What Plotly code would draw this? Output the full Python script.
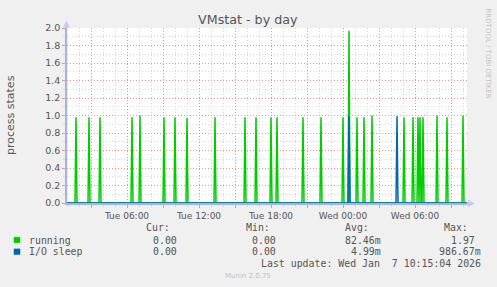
import plotly.graph_objects as go
from datetime import datetime, timedelta

# ---------------- data ----------------
running_times = [
    "2026-01-06 01:45", "2026-01-06 02:50", "2026-01-06 03:45", "2026-01-06 06:25",
    "2026-01-06 07:05", "2026-01-06 09:05", "2026-01-06 10:00", "2026-01-06 11:00",
    "2026-01-06 13:20", "2026-01-06 15:50", "2026-01-06 16:45", "2026-01-06 18:00",
    "2026-01-06 18:30", "2026-01-06 20:40", "2026-01-06 22:10", "2026-01-07 00:00",
    "2026-01-07 00:30", "2026-01-07 01:10", "2026-01-07 01:45", "2026-01-07 02:25",
    "2026-01-07 05:05", "2026-01-07 05:50", "2026-01-07 06:15", "2026-01-07 06:25",
    "2026-01-07 06:40", "2026-01-07 07:50", "2026-01-07 08:40", "2026-01-07 10:00",
]
running_values = [
    0.98, 0.98, 0.98, 0.98,
    1.00, 0.98, 0.98, 0.97,
    0.98, 0.98, 0.98, 0.98,
    0.98, 0.98, 0.98, 0.98,
    1.97, 0.98, 0.98, 1.00,
    0.98, 0.98, 0.98, 0.98,
    0.98, 1.00, 0.98, 1.00,
]
io_times = ["2026-01-07 00:30", "2026-01-07 04:30"]
io_values = [0.99, 0.99]

x_start = "2026-01-06 01:00"
x_end = "2026-01-07 10:20"

tick_vals = [
    "2026-01-06 03:00", "2026-01-06 06:00", "2026-01-06 09:00", "2026-01-06 12:00",
    "2026-01-06 15:00", "2026-01-06 18:00", "2026-01-06 21:00", "2026-01-07 00:00",
    "2026-01-07 03:00", "2026-01-07 06:00", "2026-01-07 09:00",
]
tick_text = ["", "Tue 06:00", "", "Tue 12:00", "", "Tue 18:00", "", "Wed 00:00",
             "", "Wed 06:00", ""]

series_names = ["running", "I/O sleep"]
series_colors = ["#00CC00", "#0066B3"]
stat_cur = ["0.00", "0.00"]
stat_min = ["0.00", "0.00"]
stat_avg = ["82.46m", "4.99m"]
stat_max = ["1.97", "986.67m"]

title_text = "VMstat - by day"
ylabel_text = "process states"
last_update = "Last update: Wed Jan\u00a0 7 10:15:04 2026"

# ------------- build spike series (5-minute samples) -------------
FMT = "%Y-%m-%d %H:%M"
STEP = timedelta(minutes=5)


def spikes(times, values):
    xs = [datetime.strptime(x_start, FMT)]
    ys = [0.0]
    for t, v in zip(times, values):
        d = datetime.strptime(t, FMT)
        xs += [d - STEP, d, d + STEP]
        ys += [0.0, v, 0.0]
    xs.append(datetime.strptime(x_end, FMT))
    ys.append(0.0)
    return xs, ys


W, H = 497, 287
ML, MR, MT, MB = 67, 30, 28, 84
PW, PH = W - ML - MR, H - MT - MB


def px(x):
    return (x - ML) / PW


def py(y):
    return (MT + PH - y) / PH


fig = go.Figure()
for (times, values), name, color in zip(
        [(running_times, running_values), (io_times, io_values)], series_names, series_colors):
    xs, ys = spikes(times, values)
    fig.add_trace(go.Scatter(x=xs, y=ys, mode="lines", name=name,
                             line=dict(color=color, width=1.5), hoverinfo="skip"))

MAJ = "#ec9494"
MIN = "#d6d6d6"
TXT = "#555555"
AXC = "#a9b3e0"

fig.update_layout(
    width=W, height=H,
    margin=dict(l=ML, r=MR, t=MT, b=MB, pad=0),
    paper_bgcolor="#F0F0F0", plot_bgcolor="#FFFFFF",
    showlegend=False,
    font=dict(family="DejaVu Sans", size=9, color=TXT),
    xaxis=dict(
        type="date", range=[x_start, x_end],
        tickmode="array", tickvals=tick_vals, ticktext=tick_text,
        showgrid=True, gridcolor=MAJ, griddash="1px,2px", gridwidth=1,
        ticks="outside", ticklen=3, tickcolor=MAJ, tickwidth=1,
        showline=True, linecolor=AXC, linewidth=1.5,
        zeroline=False, tickfont=dict(size=9, color=TXT),
        minor=dict(tickmode="linear", tick0="2026-01-06 00:00", dtick=3600000,
                   showgrid=True, gridcolor=MIN, griddash="1px,2px", gridwidth=1,
                   ticks="outside", ticklen=2, tickcolor=MIN),
    ),
    yaxis=dict(
        range=[0, 2.0], dtick=0.2, tick0=0, tickformat=".1f",
        showgrid=True, gridcolor=MAJ, griddash="1px,2px", gridwidth=1,
        ticks="outside", ticklen=3, tickcolor=MAJ,
        showline=True, linecolor=AXC, linewidth=1.5,
        zeroline=False, tickfont=dict(size=9.5, color=TXT),
        minor=dict(dtick=0.1, showgrid=True, gridcolor=MIN, griddash="1px,2px",
                   gridwidth=1, ticks="outside", ticklen=2, tickcolor=MIN),
    ),
)

shapes = []
# axis arrows
shapes.append(dict(type="line", xref="paper", yref="paper", x0=px(66.5), x1=px(66.5),
                   y0=py(203), y1=py(24), line=dict(color=AXC, width=1.5)))
shapes.append(dict(type="path", xref="paper", yref="paper",
                   path=f"M {px(63)} {py(27.5)} L {px(70)} {py(27.5)} L {px(66.5)} {py(20.5)} Z",
                   fillcolor="#c6cbf5", line=dict(width=0)))
shapes.append(dict(type="line", xref="paper", yref="paper", x0=px(467), x1=px(470),
                   y0=py(203.5), y1=py(203.5), line=dict(color=AXC, width=1.5)))
shapes.append(dict(type="path", xref="paper", yref="paper",
                   path=f"M {px(468)} {py(200)} L {px(468)} {py(207)} L {px(475)} {py(203.5)} Z",
                   fillcolor="#c6cbf5", line=dict(width=0)))
# legend swatches
for i, color in enumerate(series_colors):
    yc = 240 + i * 11.7
    shapes.append(dict(type="rect", xref="paper", yref="paper",
                       x0=px(14), x1=px(20), y0=py(yc - 2.8), y1=py(yc + 2.8),
                       fillcolor=color, line=dict(color=color, width=0.5)))
fig.update_layout(shapes=shapes)

MONO = "DejaVu Sans Mono"
ann = []


def text(x, y, s, anchor="left", size=9.9, family=MONO, color=TXT, angle=0):
    ann.append(dict(x=px(x), y=py(y), xref="paper", yref="paper", text=s,
                    showarrow=False, xanchor=anchor, yanchor="middle",
                    font=dict(family=family, size=size, color=color),
                    textangle=angle))


text(248, 19, title_text, anchor="center", size=12.7, family="DejaVu Sans")
text(10, 115, ylabel_text, anchor="center", size=11, family="DejaVu Sans", angle=-90)
text(488, 53.5, "RRDTOOL / TOBI OETIKER", anchor="center", size=7,
     family="DejaVu Sans", color="#c4c4c4", angle=90)

headers = ["Cur:", "Min:", "Avg:", "Max:"]
header_x = [172.3, 271.7, 371.0, 470.0]
for h, hx in zip(headers, header_x):
    text(hx, 227.7, h, anchor="right")

col_x = [185.0, 284.3, 383.3, 482.8]
for i, name in enumerate(series_names):
    yc = 240 + i * 11.7
    text(26.7, yc, name)
    vals = [stat_cur[i], stat_min[i], stat_avg[i], stat_max[i]]
    for v, cx in zip(vals, col_x):
        s = v if v.endswith("m") else v + "\u00a0"
        text(cx, yc, s, anchor="right")

text(482.5, 263.3, last_update, anchor="right")
text(248, 276, "Munin 2.0.75", anchor="center", size=7, family="DejaVu Sans", color="#c0c0c0")

fig.update_layout(annotations=ann)
fig.write_html("out.html")
